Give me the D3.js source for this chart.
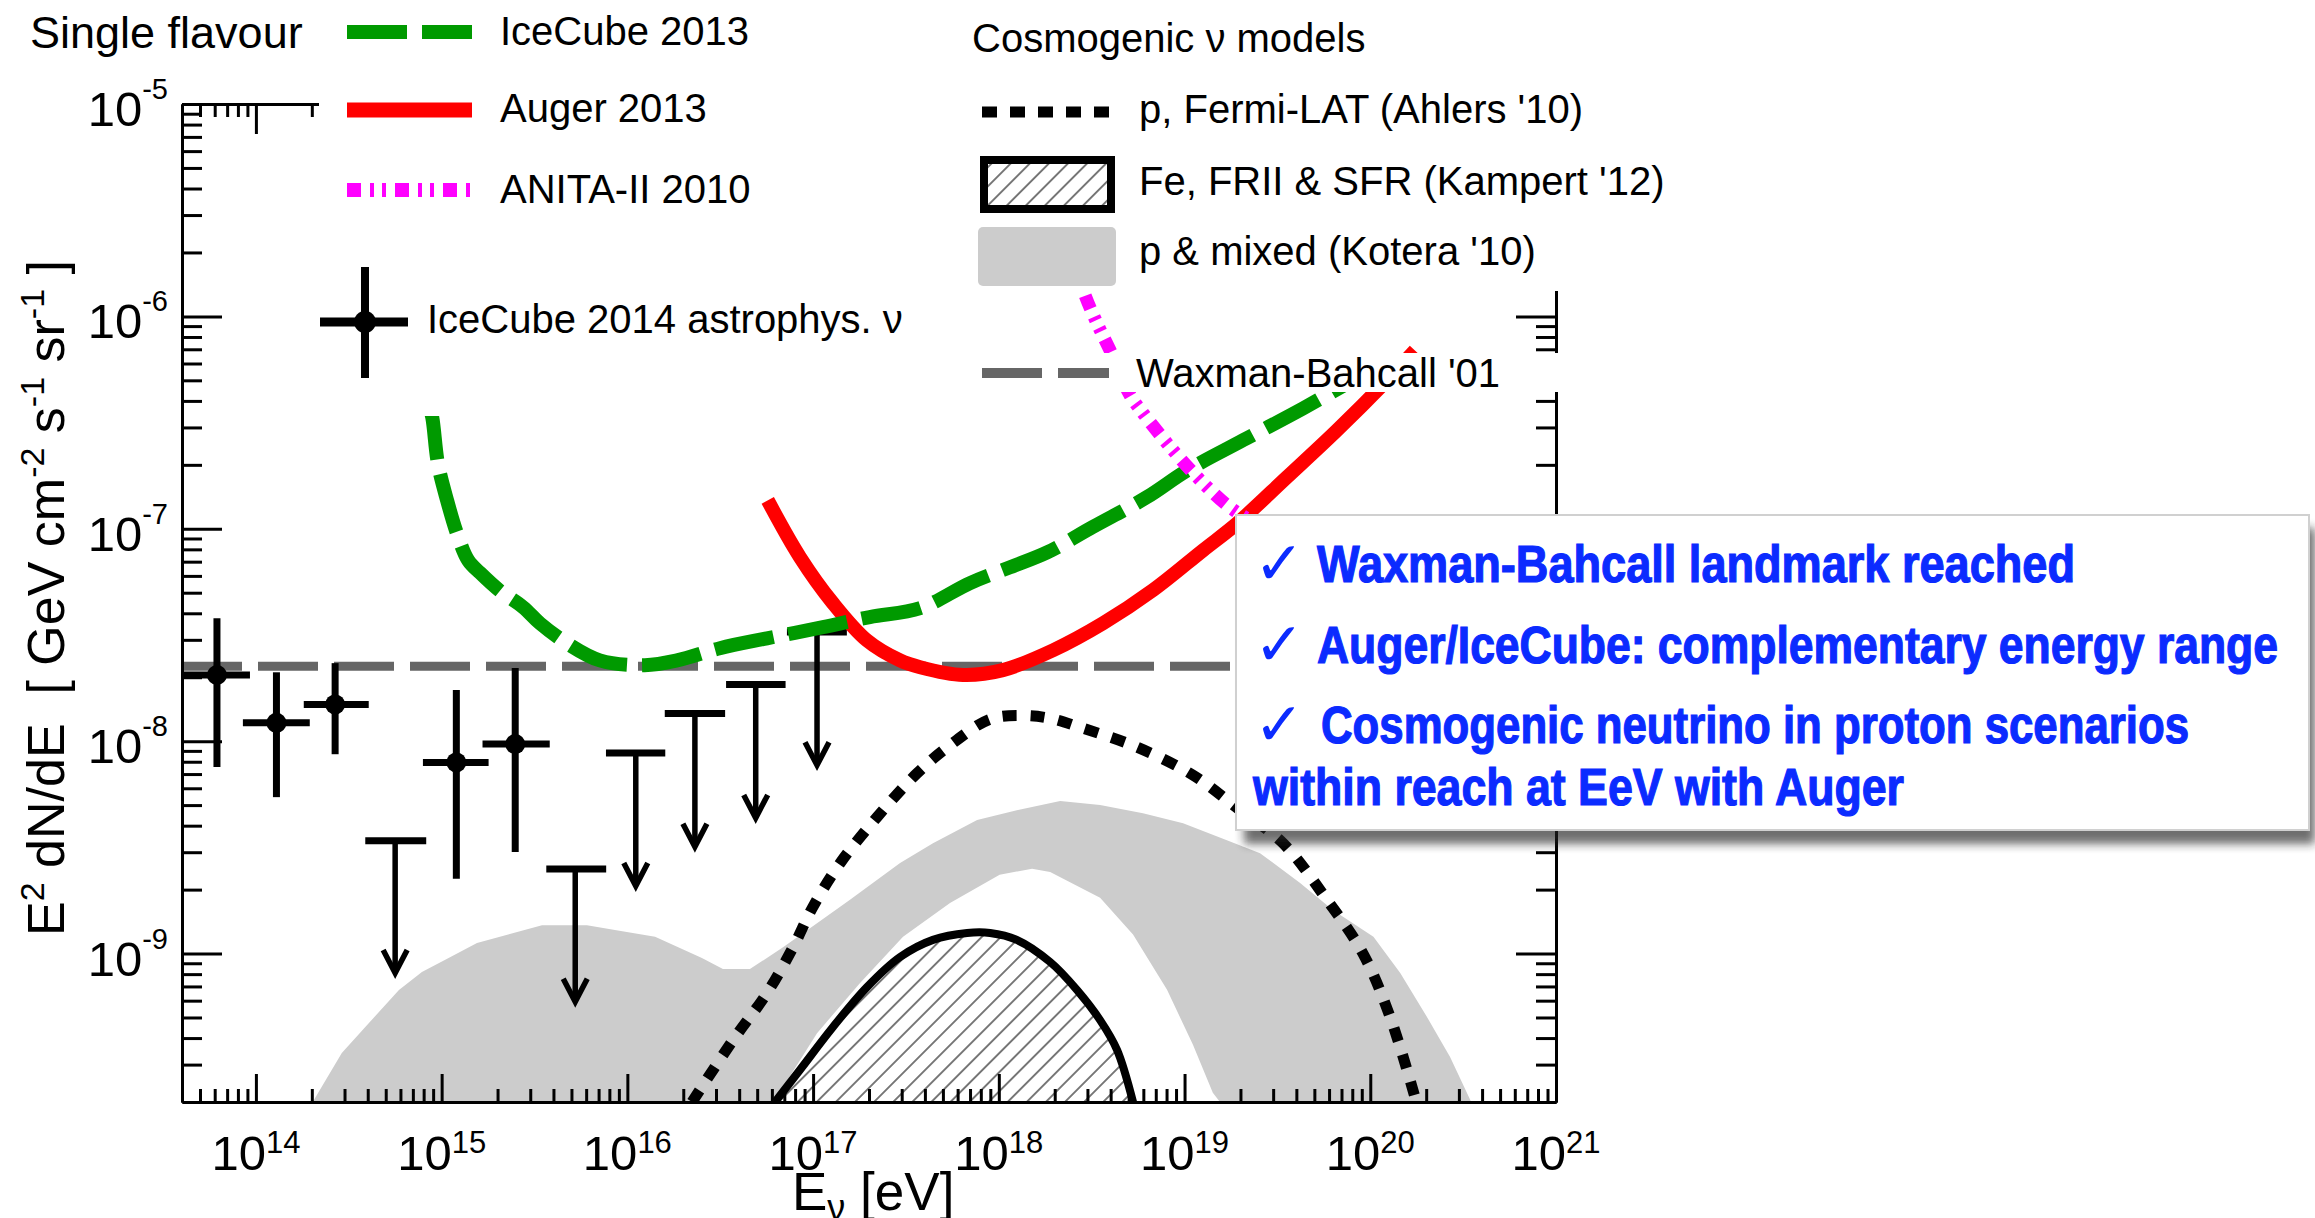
<!DOCTYPE html>
<html>
<head>
<meta charset="utf-8">
<script src="https://cdn.jsdelivr.net/npm/d3@7"></script>
<style>
body { margin: 0; background: #fff; }
text { font-family: "Liberation Sans", Arial, Helvetica, sans-serif; fill: #000; }
</style>
</head>
<body>
<script>
// IceCube 2013 differential limit (green dashed)
var icecube13E = [8.43e14, 8.9e14, 9.55e14, 1.07e15, 1.21e15, 1.39e15, 1.61e15, 2.06e15, 2.74e15, 3.38e15, 4.73e15, 7.11e15, 1.24e16, 1.85e16, 3.15e16, 5.65e16, 1.13e17, 2.02e17, 3.77e17, 7.0e17, 1.15e18, 1.82e18, 3.21e18, 6.28e18, 1.03e19, 2.17e19, 4.35e19, 1.0e20];
var icecube13F = [4.03e-7, 3.35e-7, 2.03e-7, 1.36e-7, 9.5e-8, 7.1e-8, 6.2e-8, 5.1e-8, 4.28e-8, 3.59e-8, 2.89e-8, 2.40e-8, 2.28e-8, 2.40e-8, 2.74e-8, 3.05e-8, 3.44e-8, 3.84e-8, 4.23e-8, 5.55e-8, 6.59e-8, 7.74e-8, 1.02e-7, 1.41e-7, 1.88e-7, 2.67e-7, 3.69e-7, 5.57e-7];

// Auger 2013 (red)
var auger13E = [5.7e16, 8.5e16, 1.28e17, 1.95e17, 2.94e17, 3.77e17, 6.41e17, 1.05e18, 1.96e18, 3.64e18, 6.76e18, 1.26e19, 1.92e19, 3.56e19, 6.62e19, 1.23e20, 1.74e20];
var auger13F = [1.36e-7, 7.35e-8, 4.46e-8, 2.98e-8, 2.40e-8, 2.23e-8, 2.05e-8, 2.16e-8, 2.68e-8, 3.59e-8, 5.14e-8, 7.93e-8, 1.06e-7, 1.75e-7, 2.91e-7, 5.0e-7, 6.9e-7];

// ANITA-II 2010 (magenta)
var anitaE = [2.42e18, 2.91e18, 3.38e18, 3.97e18, 5.09e18, 5.98e18, 8.67e18, 1.26e19, 1.76e19, 2.55e19, 5.37e19];
var anitaF = [2.05e-6, 1.26e-6, 9.27e-7, 6.92e-7, 4.25e-7, 3.50e-7, 2.34e-7, 1.64e-7, 1.26e-7, 1.04e-7, 8.36e-8];

// p, Fermi-LAT (Ahlers '10)
var ahlersE = [2.23e16, 3.71e16, 5.65e16, 7.80e16, 9.98e16, 1.40e17, 2.21e17, 3.63e17, 5.46e17, 8.98e17, 1.33e18, 1.89e18, 2.84e18, 5.55e18, 1.11e19, 1.99e19, 3.39e19, 5.85e19, 9.14e19, 1.28e20, 1.74e20];
var ahlersF = [2.0e-10, 3.92e-10, 6.52e-10, 1.07e-9, 1.66e-9, 2.67e-9, 4.39e-9, 7.06e-9, 9.57e-9, 1.27e-8, 1.32e-8, 1.28e-8, 1.15e-8, 9.37e-9, 6.92e-9, 4.73e-9, 3.31e-9, 1.79e-9, 1.00e-9, 5.02e-10, 2.11e-10];

// Fe, FRII & SFR (Kampert '12)
var kampertE = [6.24e16, 8.49e16, 1.28e17, 1.95e17, 2.94e17, 4.42e17, 6.75e17, 8.98e17, 1.25e18, 1.89e18, 2.64e18, 3.51e18, 4.33e18, 5.28e18];
var kampertF = [2.0e-10, 2.83e-10, 4.51e-10, 6.95e-10, 9.63e-10, 1.16e-9, 1.25e-9, 1.25e-9, 1.16e-9, 9.12e-10, 6.73e-10, 4.86e-10, 3.52e-10, 2.0e-10];

// p & mixed (Kotera '10) band
var koteraUpE = [1.84e14, 2.90e14, 4.06e14, 5.89e14, 7.83e14, 1.09e15, 1.55e15, 3.47e15, 6.06e15, 8.57e15, 1.41e16, 2.52e16, 3.27e16, 4.57e16, 6.89e16, 1.05e17, 1.58e17, 2.94e17, 4.42e17, 7.64e17, 1.25e18, 2.14e18, 3.51e18, 5.97e18, 9.82e18, 1.69e19, 2.55e19, 4.19e19, 6.31e19, 1.04e20, 1.45e20, 2.02e20, 2.69e20, 3.45e20, 3.81e20];
var koteraUpF = [1.74e-10, 3.40e-10, 4.71e-10, 6.73e-10, 8.18e-10, 9.53e-10, 1.12e-9, 1.36e-9, 1.36e-9, 1.29e-9, 1.20e-9, 9.53e-10, 8.45e-10, 8.45e-10, 1.07e-9, 1.39e-9, 1.79e-9, 2.67e-9, 3.31e-9, 4.25e-9, 4.73e-9, 5.22e-9, 5.00e-9, 4.58e-9, 4.11e-9, 3.42e-9, 2.97e-9, 2.15e-9, 1.60e-9, 1.20e-9, 8.09e-10, 5.02e-10, 3.26e-10, 2.05e-10, 1.64e-10];
var koteraLowE = [5.71e16, 6.24e16, 1.05e17, 1.79e17, 3.05e17, 5.46e17, 1.01e18, 1.51e18, 1.89e18, 3.51e18, 5.28e18, 8.05e18, 1.11e19, 1.42e19, 1.67e19];
var koteraLowF = [1.74e-10, 2.05e-10, 4.22e-10, 7.27e-10, 1.20e-9, 1.73e-9, 2.35e-9, 2.51e-9, 2.42e-9, 1.83e-9, 1.23e-9, 6.75e-10, 3.72e-10, 2.21e-10, 1.84e-10];

// Waxman-Bahcall '01
var wbFlux = 2.25e-8;

// IceCube 2014 astrophysical neutrinos: measured points
var icE   = [6.17e13, 1.29e14, 2.67e14, 1.20e15, 2.49e15];
var icELo = [4.09e13, 8.51e13, 1.81e14, 7.93e14, 1.66e15];
var icEHi = [9.29e13, 1.95e14, 4.05e14, 1.79e15, 3.82e15];
var icF   = [2.05e-8, 1.22e-8, 1.49e-8, 7.94e-9, 9.69e-9];
var icFLo = [7.55e-9, 5.45e-9, 8.68e-9, 2.25e-9, 3.01e-9];
var icFHi = [3.79e-8, 2.11e-8, 2.33e-8, 1.74e-8, 2.21e-8];

// IceCube 2014: upper limits
var ulE   = [5.62e14, 5.24e15, 1.11e16, 2.31e16, 4.91e16, 1.05e17];
var ulELo = [3.88e14, 3.66e15, 7.67e15, 1.59e16, 3.40e16, 7.23e16];
var ulEHi = [8.26e14, 7.69e15, 1.60e16, 3.36e16, 7.11e16, 1.52e17];
var ulF   = [3.40e-9, 2.50e-9, 8.79e-9, 1.35e-8, 1.85e-8, 3.27e-8];
var ulTip = [8.09e-10, 5.93e-10, 2.08e-9, 3.18e-9, 4.35e-9, 7.71e-9];

var xTickExp = [14, 15, 16, 17, 18, 19, 20, 21];
var yTickExp = [-9, -8, -7, -6, -5];

var notes = [
  { check: true,  x: 1317, y: 582, len: 758, text: 'Waxman-Bahcall landmark reached' },
  { check: true,  x: 1317, y: 663, len: 961, text: 'Auger/IceCube: complementary energy range' },
  { check: true,  x: 1321, y: 743, len: 868, text: 'Cosmogenic neutrino in proton scenarios' },
  { check: false, x: 1253, y: 805, len: 651, text: 'within reach at EeV with Auger' }
];

var svg = d3.select('body').append('svg')
  .attr('width', 2315)
  .attr('height', 1218);

var x = d3.scaleLog().domain([4e13, 1e21]).range([182, 1556]);
var y = d3.scaleLog().domain([2e-10, 1e-5]).range([1102, 104]);

var defs = svg.append('defs');
defs.append('clipPath').attr('id', 'plotclip')
  .append('rect').attr('x', 182).attr('y', 104).attr('width', 1374).attr('height', 998);

var hatch = defs.append('pattern').attr('id', 'hatch')
  .attr('patternUnits', 'userSpaceOnUse')
  .attr('width', 13.5).attr('height', 13.5)
  .attr('patternTransform', 'rotate(45)');
hatch.append('rect').attr('width', 13.5).attr('height', 13.5).attr('fill', '#fff');
hatch.append('line').attr('x1', 6.75).attr('x2', 6.75).attr('y1', 0).attr('y2', 13.5)
  .attr('stroke', '#333').attr('stroke-width', 1.3);

defs.append('filter').attr('id', 'blur').attr('x', '-5%').attr('y', '-10%').attr('width', '110%').attr('height', '130%')
  .append('feGaussianBlur').attr('stdDeviation', 5);

var smooth = d3.line().x(d => x(d[0])).y(d => y(d[1])).curve(d3.curveCatmullRom.alpha(0.5));
var straight = d3.line().x(d => x(d[0])).y(d => y(d[1]));

var plot = svg.append('g').attr('clip-path', 'url(#plotclip)');

// grey band
var band = d3.zip(koteraUpE, koteraUpF).concat(d3.zip(koteraLowE, koteraLowF).reverse());
plot.append('path').attr('d', straight(band) + 'Z').attr('fill', '#cccccc');

// hatched Kampert model
plot.append('path').attr('d', smooth(d3.zip(kampertE, kampertF)) + 'Z')
  .attr('fill', 'url(#hatch)');
plot.append('path').attr('d', smooth(d3.zip(kampertE, kampertF)))
  .attr('fill', 'none').attr('stroke', '#000').attr('stroke-width', 8);

// Waxman-Bahcall
plot.append('line')
  .attr('x1', 182).attr('x2', 1556)
  .attr('y1', y(wbFlux)).attr('y2', y(wbFlux))
  .attr('stroke', '#666').attr('stroke-width', 9).attr('stroke-dasharray', '60,16');

// Ahlers dotted
plot.append('path').attr('d', smooth(d3.zip(ahlersE, ahlersF)))
  .attr('fill', 'none').attr('stroke', '#000').attr('stroke-width', 11).attr('stroke-dasharray', '14,14');

// IceCube 2014 points
var pts = plot.append('g').attr('stroke', '#000');
icE.forEach(function(e, i) {
  pts.append('line').attr('x1', x(icELo[i])).attr('x2', x(icEHi[i])).attr('y1', y(icF[i])).attr('y2', y(icF[i])).attr('stroke-width', 7);
  pts.append('line').attr('x1', x(e)).attr('x2', x(e)).attr('y1', y(icFLo[i])).attr('y2', y(icFHi[i])).attr('stroke-width', 7);
  pts.append('circle').attr('cx', x(e)).attr('cy', y(icF[i])).attr('r', 10).attr('fill', '#000').attr('stroke', 'none');
});
ulE.forEach(function(e, i) {
  var tx = x(e), ty = y(ulTip[i]);
  pts.append('line').attr('x1', x(ulELo[i])).attr('x2', x(ulEHi[i])).attr('y1', y(ulF[i])).attr('y2', y(ulF[i])).attr('stroke-width', 7);
  pts.append('line').attr('x1', tx).attr('x2', tx).attr('y1', y(ulF[i])).attr('y2', ty - 2).attr('stroke-width', 5.5);
  pts.append('path').attr('d', 'M' + (tx - 12) + ',' + (ty - 23) + 'L' + tx + ',' + ty + 'L' + (tx + 12) + ',' + (ty - 23))
    .attr('fill', 'none').attr('stroke-width', 5.5);
});

// Auger, IceCube 2013, ANITA
plot.append('path').attr('d', smooth(d3.zip(auger13E, auger13F)))
  .attr('fill', 'none').attr('stroke', '#ff0000').attr('stroke-width', 14);
plot.append('path').attr('d', smooth(d3.zip(icecube13E, icecube13F)))
  .attr('fill', 'none').attr('stroke', '#009a00').attr('stroke-width', 14).attr('stroke-dasharray', '60,15');
plot.append('path').attr('d', smooth(d3.zip(anitaE, anitaF)))
  .attr('fill', 'none').attr('stroke', '#ff00ff').attr('stroke-width', 13).attr('stroke-dasharray', '14,9,4,8,4,9');

// axes
var xMinor = [], yMinor = [];
for (var e = 13; e <= 20; e++) for (var k = 2; k <= 9; k++) {
  var v = k * Math.pow(10, e);
  if (v > 4e13 && v < 1e21) xMinor.push(v);
}
for (var e2 = -10; e2 <= -6; e2++) for (var k2 = 2; k2 <= 9; k2++) {
  var w = k2 * Math.pow(10, e2);
  if (w > 2e-10 && w < 1e-5) yMinor.push(w);
}
var xMajor = xTickExp.map(p => Math.pow(10, p));
var yMajor = yTickExp.map(p => Math.pow(10, p));

function styleAxis(g) {
  g.selectAll('path, line').attr('stroke', '#000').attr('stroke-width', 3);
  g.selectAll('text').remove();
}
svg.append('g').attr('transform', 'translate(0,1102)').call(d3.axisBottom(x).tickValues(xMajor).tickSize(-28).tickSizeOuter(0)).call(styleAxis);
svg.append('g').attr('transform', 'translate(0,1102)').call(d3.axisBottom(x).tickValues(xMinor).tickSize(-13).tickSizeOuter(0)).call(styleAxis);
svg.append('g').attr('transform', 'translate(0,104)').call(d3.axisTop(x).tickValues(xMajor).tickSize(-30).tickSizeOuter(0)).call(styleAxis);
svg.append('g').attr('transform', 'translate(0,104)').call(d3.axisTop(x).tickValues(xMinor).tickSize(-13).tickSizeOuter(0)).call(styleAxis);
svg.append('g').attr('transform', 'translate(182,0)').call(d3.axisLeft(y).tickValues(yMajor).tickSize(-40).tickSizeOuter(0)).call(styleAxis);
svg.append('g').attr('transform', 'translate(182,0)').call(d3.axisLeft(y).tickValues(yMinor).tickSize(-20).tickSizeOuter(0)).call(styleAxis);
svg.append('g').attr('transform', 'translate(1556,0)').call(d3.axisRight(y).tickValues(yMajor).tickSize(-40).tickSizeOuter(0)).call(styleAxis);
svg.append('g').attr('transform', 'translate(1556,0)').call(d3.axisRight(y).tickValues(yMinor).tickSize(-20).tickSizeOuter(0)).call(styleAxis);

// tick labels
xTickExp.forEach(function(p) {
  var t = svg.append('text').attr('x', x(Math.pow(10, p))).attr('y', 1170)
    .attr('text-anchor', 'middle').attr('font-size', 49);
  t.append('tspan').text('10');
  t.append('tspan').attr('dy', -17).attr('font-size', 31).text(p);
});
yTickExp.forEach(function(p) {
  var t = svg.append('text').attr('x', 168).attr('y', y(Math.pow(10, p)) + 22)
    .attr('text-anchor', 'end').attr('font-size', 49);
  t.append('tspan').text('10');
  t.append('tspan').attr('dy', -27).attr('font-size', 29).text(p);
});

// axis titles
var yt = svg.append('text').attr('transform', 'translate(64,598) rotate(-90)')
  .attr('text-anchor', 'middle').attr('font-size', 52).style('white-space', 'pre');
yt.append('tspan').text('E');
yt.append('tspan').attr('dy', -20).attr('font-size', 34).text('2');
yt.append('tspan').attr('dy', 20).text(' dN/dE  [ GeV cm');
yt.append('tspan').attr('dy', -20).attr('font-size', 34).text('-2');
yt.append('tspan').attr('dy', 20).text(' s');
yt.append('tspan').attr('dy', -20).attr('font-size', 34).text('-1');
yt.append('tspan').attr('dy', 20).text(' sr');
yt.append('tspan').attr('dy', -20).attr('font-size', 34).text('-1');
yt.append('tspan').attr('dy', 20).text(' ]');

var xt = svg.append('text').attr('x', 792).attr('y', 1210).attr('font-size', 53).style('white-space', 'pre');
xt.append('tspan').text('E');
xt.append('tspan').attr('dy', 10).attr('font-size', 36).text('ν');
xt.append('tspan').attr('dy', -10).text(' [eV]');

// legend backgrounds
svg.append('rect').attr('x', 319).attr('y', 0).attr('width', 1300).attr('height', 291).attr('fill', '#fff');
svg.append('rect').attr('x', 319).attr('y', 291).attr('width', 611).attr('height', 125).attr('fill', '#fff');
svg.append('rect').attr('x', 960).attr('y', 353).attr('width', 640).attr('height', 39).attr('fill', '#fff');

// legend: left column
var leg = svg.append('g');
leg.append('text').attr('x', 30).attr('y', 48).attr('font-size', 45).text('Single flavour');
leg.append('line').attr('x1', 347).attr('x2', 472).attr('y1', 32).attr('y2', 32)
  .attr('stroke', '#009a00').attr('stroke-width', 14).attr('stroke-dasharray', '60,15');
leg.append('text').attr('x', 500).attr('y', 45).attr('font-size', 40).text('IceCube 2013');
leg.append('line').attr('x1', 347).attr('x2', 472).attr('y1', 110).attr('y2', 110)
  .attr('stroke', '#ff0000').attr('stroke-width', 15);
leg.append('text').attr('x', 500).attr('y', 122).attr('font-size', 40).text('Auger 2013');
leg.append('line').attr('x1', 347).attr('x2', 472).attr('y1', 190).attr('y2', 190)
  .attr('stroke', '#ff00ff').attr('stroke-width', 14).attr('stroke-dasharray', '14,9,4,8,4,9');
leg.append('text').attr('x', 500).attr('y', 203).attr('font-size', 40).text('ANITA-II 2010');
leg.append('line').attr('x1', 320).attr('x2', 408).attr('y1', 322).attr('y2', 322).attr('stroke', '#000').attr('stroke-width', 9);
leg.append('line').attr('x1', 365).attr('x2', 365).attr('y1', 267).attr('y2', 378).attr('stroke', '#000').attr('stroke-width', 8);
leg.append('circle').attr('cx', 365).attr('cy', 322).attr('r', 11).attr('fill', '#000');
leg.append('text').attr('x', 427).attr('y', 333).attr('font-size', 40).text('IceCube 2014 astrophys. ν');

// legend: right column
leg.append('text').attr('x', 972).attr('y', 52).attr('font-size', 40).text('Cosmogenic ν models');
leg.append('line').attr('x1', 982).attr('x2', 1113).attr('y1', 112).attr('y2', 112)
  .attr('stroke', '#000').attr('stroke-width', 11).attr('stroke-dasharray', '15,13');
leg.append('text').attr('x', 1139).attr('y', 123).attr('font-size', 40).text("p, Fermi-LAT (Ahlers '10)");
leg.append('rect').attr('x', 984).attr('y', 160).attr('width', 127).attr('height', 49)
  .attr('fill', 'url(#hatch)').attr('stroke', '#000').attr('stroke-width', 8);
leg.append('text').attr('x', 1139).attr('y', 195).attr('font-size', 40).text("Fe, FRII & SFR (Kampert '12)");
leg.append('rect').attr('x', 978).attr('y', 227).attr('width', 138).attr('height', 59).attr('rx', 5)
  .attr('fill', '#cccccc');
leg.append('text').attr('x', 1139).attr('y', 265).attr('font-size', 40).text("p & mixed (Kotera '10)");
leg.append('line').attr('x1', 982).attr('x2', 1109).attr('y1', 373).attr('y2', 373)
  .attr('stroke', '#666').attr('stroke-width', 10).attr('stroke-dasharray', '60,16');
leg.append('text').attr('x', 1136).attr('y', 387).attr('font-size', 40).text("Waxman-Bahcall '01");

// annotation box
var note = svg.append('g');
note.append('rect').attr('x', 1244).attr('y', 528).attr('width', 1071).attr('height', 316)
  .attr('fill', '#222').attr('opacity', 0.65).attr('filter', 'url(#blur)');
note.append('rect').attr('x', 1236).attr('y', 515).attr('width', 1073).attr('height', 315)
  .attr('fill', '#fff').attr('stroke', '#d0d0d0').attr('stroke-width', 2);
notes.forEach(function(n) {
  if (n.check) {
    note.append('text').attr('x', 1254).attr('y', n.y + 2)
      .style('font-family', '"DejaVu Sans", sans-serif').style('font-weight', 'bold')
      .attr('font-size', 60).style('fill', '#0b2bff').text('✓');
  }
  note.append('text').attr('x', n.x).attr('y', n.y)
    .style('font-family', '"Liberation Sans Narrow", "Liberation Sans", Arial, sans-serif')
    .style('font-weight', 'bold').attr('font-size', 51).style('fill', '#0b2bff')
    .style('stroke', '#0b2bff').style('stroke-width', 1.2)
    .attr('textLength', n.len).attr('lengthAdjust', 'spacingAndGlyphs')
    .text(n.text);
});
</script>
</body>
</html>
